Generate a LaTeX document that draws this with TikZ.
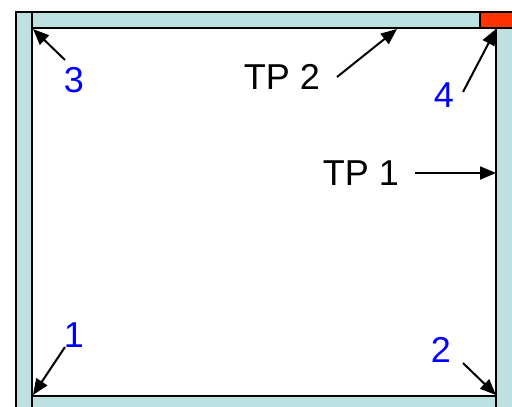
\documentclass[tikz,border=0pt]{standalone}
\usepackage{fontspec}
\setmainfont{Liberation Sans}
\usetikzlibrary{arrows.meta}
\definecolor{barfill}{RGB}{189,224,226}
\definecolor{cornerred}{RGB}{255,51,0}
\tikzset{
  bar/.style={draw=black, line width=2.5pt, fill=barfill},
  corner/.style={draw=black, line width=2.5pt, fill=cornerred},
  pointer/.style={line width=2pt, -{Triangle[length=16pt,width=13pt]}},
  num/.style={text=blue, font=\fontsize{36}{36}\selectfont, inner sep=0pt},
  tp/.style={text=black, font=\fontsize{36}{36}\selectfont, inner sep=0pt},
}
\begin{document}
\begin{tikzpicture}[x=1pt,y=-1pt]
  \useasboundingbox (0,0) rectangle (512,407);
  \fill[white] (0,0) rectangle (512,407);
  \begin{scope}
    \clip (0,0) rectangle (512,407);
    % frame members around the panel
    \draw[bar] (16,12) rectangle (32,420);
    \draw[bar] (32,12) rectangle (480,28);
    \draw[corner] (480,12) rectangle (520,28);
    \draw[bar] (496,28) rectangle (520,420);
    \draw[bar] (32,396) rectangle (496,420);
  \end{scope}

  % points the arrows aim at
  \coordinate (c3) at (33,29);
  \coordinate (tp2) at (397,29);
  \coordinate (c4) at (496,29);
  \coordinate (tp1) at (496,173);
  \coordinate (c1) at (33,395);
  \coordinate (c2) at (496,395);

  % arrow tails
  \coordinate (s3) at (65,60);
  \coordinate (stp2) at (337,77);
  \coordinate (s4) at (463,92);
  \coordinate (stp1) at (415,173);
  \coordinate (s1) at (65,347);
  \coordinate (s2) at (463,363);

  % labels
  \node[num] (l3) at (74,80) {3};
  \node[tp] (ltp2) at (282,77) {TP 2};
  \node[num] (l4) at (444,95) {4};
  \node[tp] (ltp1) at (361,173) {TP 1};
  \node[num] (l1) at (74,335) {1};
  \node[num] (l2) at (441,350) {2};

  \draw[pointer] (s3) -- (c3);
  \draw[pointer] (stp2) -- (tp2);
  \draw[pointer] (s4) -- (c4);
  \draw[pointer] (stp1) -- (tp1);
  \draw[pointer] (s1) -- (c1);
  \draw[pointer] (s2) -- (c2);
\end{tikzpicture}
\end{document}
